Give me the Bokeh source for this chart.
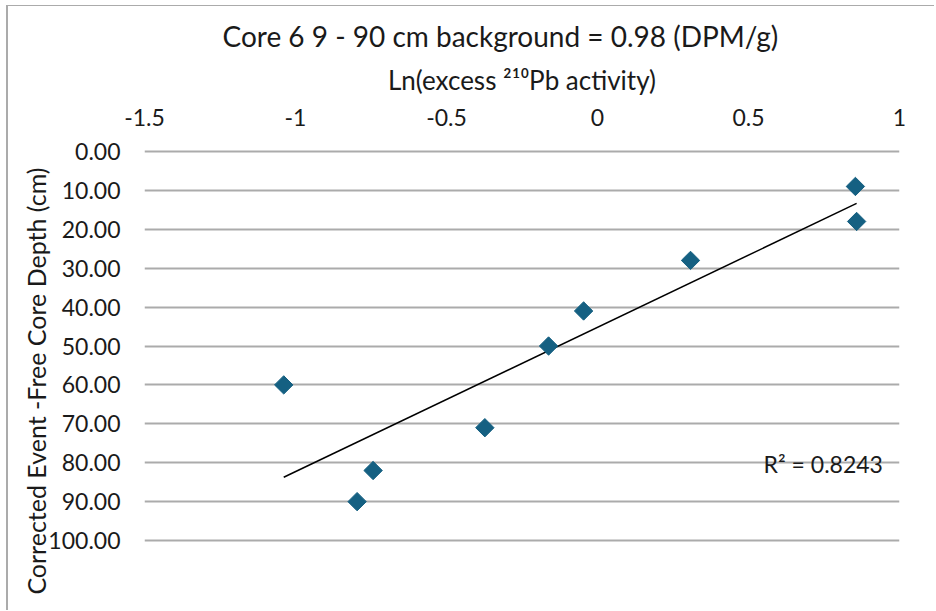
import numpy as np
from bokeh.plotting import figure
from bokeh.models import Range1d, FixedTicker, PrintfTickFormatter, Label, ColumnDataSource, Title
from bokeh.embed import file_html
from bokeh.resources import INLINE

# ---- data ----
ln_excess_pb = [0.854, 0.858, 0.308, -0.046, -0.162, -1.039, -0.373, -0.743, -0.796]
depth_cm = [9, 18, 28, 41, 50, 60, 71, 82, 90]
x_ticks = [-1.5, -1.0, -0.5, 0.0, 0.5, 1.0]
x_tick_labels = ["-1.5", "-1", "-0.5", "0", "0.5", "1"]
y_ticks = [0, 10, 20, 30, 40, 50, 60, 70, 80, 90, 100]
r2_label = "R² = 0.8243"
title_text = "Core 6 9 - 90 cm background = 0.98 (DPM/g)"
x_title = "Ln(excess ²¹⁰Pb activity)"
y_title = "Corrected Event -Free Core Depth (cm)"

FONT = "Lato"
TXT = "#1a1a1a"
MARK = "#156082"
GRID = "#ababab"

p = figure(width=928, height=605, output_backend="svg", toolbar_location=None,
           x_range=Range1d(-1.5, 1.0), y_range=Range1d(100.5, -0.5),
           x_axis_location="above",
           min_border_left=136, min_border_right=37, min_border_top=143, min_border_bottom=69,
           background_fill_color="white", border_fill_color="white")
p.styles = {"border-left": "2px solid #ababab", "border-top": "1px solid #ababab",
            "margin-left": "6px", "margin-top": "5px"}
p.outline_line_color = None

# title
p.title.text = title_text
p.title.text_font = FONT
p.title.text_font_size = "28px"
p.title.text_font_style = "normal"
p.title.text_color = TXT
p.title.align = "left"
p.title.offset = 78
p.title.standoff = 16

# x axis (top)
xa = p.xaxis[0]
xa.ticker = FixedTicker(ticks=x_ticks)
xa.major_label_overrides = {t: l for t, l in zip(x_ticks, x_tick_labels)}
xa.axis_line_color = None
xa.major_tick_line_color = None
xa.minor_tick_line_color = None
xa.major_tick_out = 0
xa.major_tick_in = 0
xa.major_label_standoff = 24
xa.major_label_text_font = FONT
xa.major_label_text_font_size = "23px"
xa.major_label_text_color = TXT
xa.axis_label = x_title
xa.axis_label_text_font = FONT
xa.axis_label_text_font_size = "26px"
xa.axis_label_text_font_style = "normal"
xa.axis_label_text_color = TXT
xa.axis_label_standoff = 10

# y axis
ya = p.yaxis[0]
ya.ticker = FixedTicker(ticks=y_ticks)
ya.formatter = PrintfTickFormatter(format="%.2f")
ya.axis_line_color = None
ya.major_tick_line_color = None
ya.minor_tick_line_color = None
ya.major_tick_out = 0
ya.major_tick_in = 0
ya.major_label_standoff = 24
ya.major_label_text_font = FONT
ya.major_label_text_font_size = "23px"
ya.major_label_text_color = TXT

p.xgrid.grid_line_color = None
p.ygrid.ticker = FixedTicker(ticks=y_ticks)
p.ygrid.grid_line_color = GRID
p.ygrid.grid_line_width = 2

# linear trendline (depth on ln activity), as Excel does
xs = np.array(ln_excess_pb)
ys = np.array(depth_cm)
slope, intercept = np.polyfit(xs, ys, 1)
tx = np.array([xs.min(), xs.max()])
p.line(tx, slope * tx + intercept, line_color="black", line_width=1.5)

src = ColumnDataSource(dict(x=ln_excess_pb, y=depth_cm))
p.scatter("x", "y", source=src, marker="square", size=13, angle=np.pi / 4,
          fill_color=MARK, line_color=MARK)

p.add_layout(Label(x=0.55, y=80.4, text=r2_label, text_font=FONT, text_font_size="23px",
                   text_color=TXT, text_baseline="middle", text_align="left"))

yt = Title(text=y_title, align="right", offset=18, text_font=FONT, text_font_size="25px",
           text_font_style="normal", text_color=TXT, standoff=0)
try:
    yt.standoff = -11
except Exception:
    pass
p.add_layout(yt, "left")

open("out.html", "w").write(file_html(p, INLINE))
